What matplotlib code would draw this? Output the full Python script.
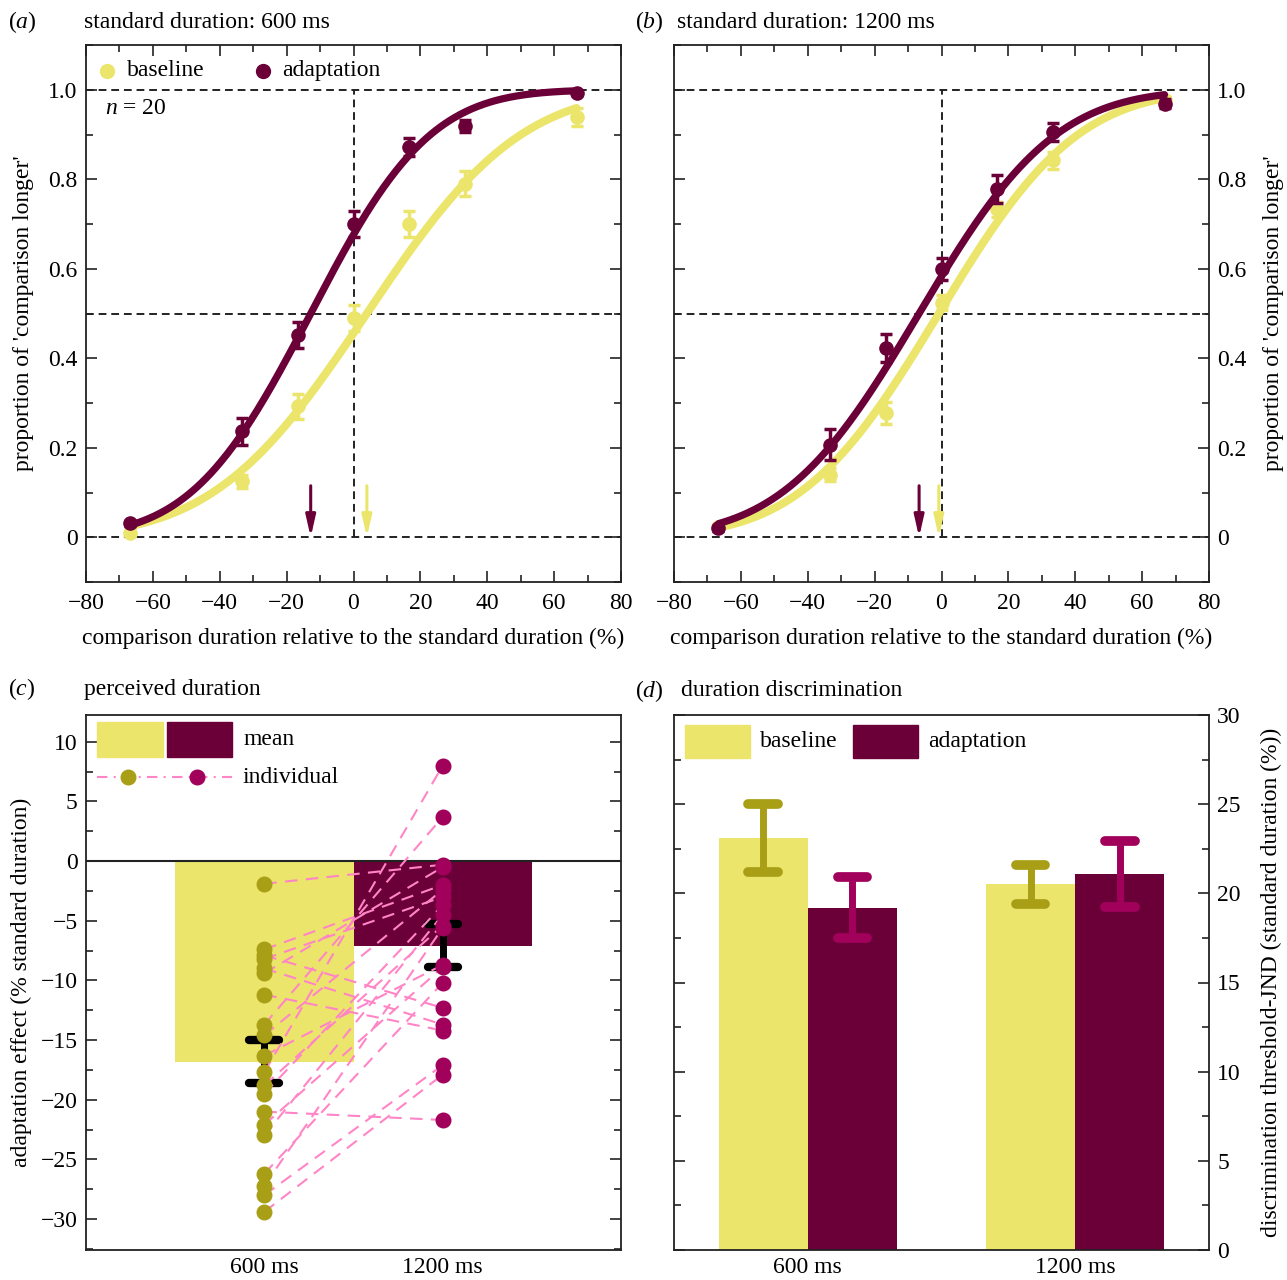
import math

import numpy as np
import matplotlib
matplotlib.use("Agg")
import matplotlib.pyplot as plt
from matplotlib.patches import Rectangle
from matplotlib.ticker import MultipleLocator

plt.rcParams["font.family"] = ["Liberation Serif", "DejaVu Serif"]
plt.rcParams["mathtext.fontset"] = "custom"
plt.rcParams["mathtext.rm"] = "Liberation Serif"
plt.rcParams["mathtext.it"] = "Liberation Serif:italic"
plt.rcParams["font.size"] = 17

YELLOW = "#ebe56c"
MAROON = "#6b0039"
OLIVE = "#a99f16"
MAGENTA = "#a1005b"
PINK = "#ff85c6"
SPINE = "#222222"

# ---- (a), (b): psychometric data ----
comparison = [-66.7, -33.3, -16.7, 0.0, 16.7, 33.3, 66.7]

base_600 = [0.01, 0.125, 0.293, 0.49, 0.70, 0.79, 0.94]
base_600_err = [0.005, 0.015, 0.028, 0.028, 0.028, 0.028, 0.02]
adapt_600 = [0.031, 0.237, 0.453, 0.70, 0.872, 0.919, 0.993]
adapt_600_err = [0.005, 0.03, 0.029, 0.029, 0.02, 0.014, 0.005]

base_1200 = [0.024, 0.14, 0.278, 0.524, 0.733, 0.842, 0.976]
base_1200_err = [0.005, 0.015, 0.024, 0.017, 0.017, 0.02, 0.008]
adapt_1200 = [0.02, 0.207, 0.423, 0.599, 0.778, 0.905, 0.969]
adapt_1200_err = [0.005, 0.034, 0.032, 0.024, 0.031, 0.02, 0.01]

# cumulative-Gaussian fit parameters (baseline, adaptation): PSE and sigma
pse_600 = [4.0, -12.8]
sigma_600 = [36.0, 28.0]
pse_1200 = [-0.8, -6.7]
sigma_1200 = [32.5, 32.0]

x_ticks_pct = [-80, -60, -40, -20, 0, 20, 40, 60, 80]
prop_ticks = [0, 0.2, 0.4, 0.6, 0.8, 1.0]
prop_labels = ["0", "0.2", "0.4", "0.6", "0.8", "1.0"]

# ---- (c): adaptation effect per participant, 600 ms vs 1200 ms ----
durations = ["600 ms", "1200 ms"]
effect_600 = [-1.9, -7.4, -7.9, -8.2, -9.0, -9.4, -11.2, -13.7, -14.6, -16.3,
              -17.7, -18.8, -19.5, -21.0, -22.1, -23.0, -26.2, -27.2, -28.0, -29.4]
effect_1200 = [-0.3, -2.0, -12.3, -3.0, -13.7, -0.5, -14.2, 3.7, -2.4, -8.7,
               8.0, -5.4, -3.7, -21.7, -8.9, -4.5, -10.2, -5.6, -17.1, -17.9]
effect_mean = [-16.8, -7.1]
effect_se = [1.8, 1.8]
effect_ticks = [10, 5, 0, -5, -10, -15, -20, -25, -30]

# ---- (d): JND ----
jnd_base = [23.1, 20.5]
jnd_base_err = [1.9, 1.1]
jnd_adapt = [19.2, 21.1]
jnd_adapt_err = [1.7, 1.85]


def cum_gauss(x, mu, sigma):
    return np.array([0.5 * (1 + math.erf((v - mu) / (sigma * math.sqrt(2)))) for v in x])


def style_box(ax):
    for s in ax.spines.values():
        s.set_linewidth(1.3)
        s.set_color(SPINE)
    ax.tick_params(which="both", direction="in", width=1.2, color=SPINE)
    ax.tick_params(which="major", length=8)
    ax.tick_params(which="minor", length=5)


def round_err(ax, x, y, e, color, lw, cap_w, cap_lw, z=4):
    ax.vlines(x, y - e, y + e, color=color, lw=lw, zorder=z)
    ax.hlines([y - e, y + e], x - cap_w / 2, x + cap_w / 2, color=color,
              lw=cap_lw, capstyle="round", zorder=z)


W, H = 1287, 1280
fig = plt.figure(figsize=(W / 100, H / 100), dpi=100)


def box(px_left, px_top, px_w=535, px_h=537):
    return [px_left / W, 1 - (px_top + px_h) / H, px_w / W, px_h / H]


ax_a = fig.add_axes(box(86, 45))
ax_b = fig.add_axes(box(674, 45))
ax_c = fig.add_axes(box(86, 715, px_h=535))
ax_d = fig.add_axes(box(674, 715, px_h=535))

xfine = np.linspace(comparison[0], comparison[-1], 300)
panels = [
    (ax_a, base_600, base_600_err, adapt_600, adapt_600_err, pse_600, sigma_600),
    (ax_b, base_1200, base_1200_err, adapt_1200, adapt_1200_err, pse_1200, sigma_1200),
]
dash = (0, (4, 2.5))
for ax, b, be, a, ae, pse, sig in panels:
    ax.axhline(0, color=SPINE, lw=1.4, ls=dash, zorder=1)
    ax.axhline(0.5, color=SPINE, lw=1.4, ls=dash, zorder=1)
    ax.axhline(1.0, color=SPINE, lw=1.4, ls=dash, zorder=1)
    ax.plot([0, 0], [0, 1], color=SPINE, lw=1.4, ls=dash, zorder=1)

    ax.plot(xfine, cum_gauss(xfine, pse[0], sig[0]), color=YELLOW, lw=5.8,
            solid_capstyle="round", zorder=2)
    ax.errorbar(comparison, b, yerr=be, fmt="o", color=YELLOW, ms=9.5,
                elinewidth=2.5, capsize=4.5, capthick=2.5, zorder=3)
    ax.plot(xfine, cum_gauss(xfine, pse[1], sig[1]), color=MAROON, lw=5.2,
            solid_capstyle="round", zorder=4)
    ax.errorbar(comparison, a, yerr=ae, fmt="o", color=MAROON, ms=9.5,
                elinewidth=2.5, capsize=4.5, capthick=2.5, zorder=5)

    for p, col in zip(pse, [YELLOW, MAROON]):
        ax.annotate("", xy=(p, 0.0), xytext=(p, 0.115),
                    arrowprops=dict(arrowstyle="-|>,head_length=0.75,head_width=0.17",
                                    color=col, lw=2.2, shrinkA=0, shrinkB=0),
                    zorder=6)

    ax.set_xlim(-80, 80)
    ax.set_ylim(-0.1, 1.1)
    ax.set_xticks(x_ticks_pct)
    ax.xaxis.set_minor_locator(MultipleLocator(10))
    ax.set_yticks(prop_ticks)
    ax.set_yticklabels(prop_labels)
    ax.yaxis.set_minor_locator(MultipleLocator(0.1))
    style_box(ax)
    ax.tick_params(which="both", top=True, right=True, bottom=True, left=True)
    ax.tick_params(axis="x", pad=8)
    ax.set_xlabel("comparison duration relative to the standard duration (%)",
                  labelpad=10)

ax_a.set_ylabel("proportion of 'comparison longer'", labelpad=10)
ax_a.tick_params(axis="y", pad=6)
ax_b.tick_params(axis="y", labelleft=False, labelright=True, pad=6)
ax_b.yaxis.set_label_position("right")
ax_b.set_ylabel("proportion of 'comparison longer'", labelpad=12)

# legend of (a)
ax_a.plot([0.039], [0.9516], "o", color=YELLOW, ms=10, transform=ax_a.transAxes, clip_on=False)
ax_a.text(0.076, 0.9516, "baseline", transform=ax_a.transAxes, va="center")
ax_a.plot([0.331], [0.9516], "o", color=MAROON, ms=10, transform=ax_a.transAxes, clip_on=False)
ax_a.text(0.366, 0.9516, "adaptation", transform=ax_a.transAxes, va="center")
ax_a.text(0.035, 0.881, "$n$ = 20", transform=ax_a.transAxes, va="center")

# ---- (c) ----
xc = [1, 2]
ax_c.bar(xc, [effect_mean[0], effect_mean[1]], width=1.0, color=[YELLOW, MAROON], zorder=1)
ax_c.axhline(0, color=SPINE, lw=1.5, zorder=2)
for x, m, s in zip(xc, effect_mean, effect_se):
    round_err(ax_c, x, m, s, "black", lw=5, cap_w=0.17, cap_lw=6, z=3)
for y0, y1 in zip(effect_600, effect_1200):
    ax_c.plot(xc, [y0, y1], color=PINK, lw=1.5, ls=(0, (6, 4)), zorder=4)
ax_c.plot([1] * len(effect_600), effect_600, "o", color=OLIVE, ms=10.5, zorder=5)
ax_c.plot([2] * len(effect_1200), effect_1200, "o", color=MAGENTA, ms=10.5, zorder=5)

ax_c.set_xlim(0, 3)
ax_c.set_ylim(-32.6, 12.25)
ax_c.set_xticks(xc)
ax_c.set_xticklabels(durations)
ax_c.set_yticks(effect_ticks)
ax_c.yaxis.set_minor_locator(MultipleLocator(2.5))
style_box(ax_c)
ax_c.tick_params(which="both", left=True, right=True, top=False)
ax_c.tick_params(axis="x", which="both", length=0, pad=5)
ax_c.tick_params(axis="y", pad=6)
ax_c.set_ylabel("adaptation effect (% standard duration)", labelpad=6)

# legend of (c)
tc = ax_c.transAxes
ax_c.add_patch(Rectangle((0.0206, 0.9215), 0.1233, 0.0654, color=YELLOW, transform=tc, zorder=6))
ax_c.add_patch(Rectangle((0.1514, 0.9215), 0.1215, 0.0654, color=MAROON, transform=tc, zorder=6))
ax_c.text(0.2953, 0.955, "mean", transform=tc, va="center")
ax_c.plot([0.0206, 0.2729], [0.884, 0.884], color=PINK, lw=1.5, ls=(0, (5, 3, 1, 3)),
          transform=tc, zorder=6)
ax_c.plot([0.0785], [0.884], "o", color=OLIVE, ms=10.5, transform=tc, zorder=7)
ax_c.plot([0.2075], [0.884], "o", color=MAGENTA, ms=10.5, transform=tc, zorder=7)
ax_c.text(0.2916, 0.884, "individual", transform=tc, va="center")

# ---- (d) ----
xd = np.array([0.5, 1.5])
bw = 1 / 3
ax_d.bar(xd - bw / 2, jnd_base, width=bw, color=YELLOW, zorder=1)
ax_d.bar(xd + bw / 2, jnd_adapt, width=bw, color=MAROON, zorder=1)
for x, m, s in zip(xd - bw / 2, jnd_base, jnd_base_err):
    round_err(ax_d, x, m, s, OLIVE, lw=5, cap_w=0.11, cap_lw=7, z=3)
for x, m, s in zip(xd + bw / 2, jnd_adapt, jnd_adapt_err):
    round_err(ax_d, x, m, s, MAGENTA, lw=5, cap_w=0.11, cap_lw=7, z=3)

ax_d.set_xlim(0, 2)
ax_d.set_ylim(0, 30)
ax_d.set_xticks(xd)
ax_d.set_xticklabels(durations)
ax_d.yaxis.set_major_locator(MultipleLocator(5))
ax_d.yaxis.set_minor_locator(MultipleLocator(2.5))
style_box(ax_d)
ax_d.tick_params(which="both", left=True, right=True, top=False)
ax_d.tick_params(axis="y", labelleft=False, labelright=True, pad=6)
ax_d.tick_params(axis="x", which="both", length=0, pad=5)
ax_d.yaxis.set_label_position("right")
ax_d.set_ylabel("discrimination threshold-JND (standard duration (%))", labelpad=14)

td = ax_d.transAxes
ax_d.add_patch(Rectangle((0.0206, 0.9196), 0.1215, 0.0617, color=YELLOW, transform=td, zorder=6))
ax_d.text(0.1607, 0.95, "baseline", transform=td, va="center")
ax_d.add_patch(Rectangle((0.3346, 0.9196), 0.1215, 0.0617, color=MAROON, transform=td, zorder=6))
ax_d.text(0.4748, 0.95, "adaptation", transform=td, va="center")

# panel letters and titles
def ftxt(px, py, s):
    fig.text(px / W, 1 - py / H, s, va="center", ha="left")

ftxt(8, 22, "($a$)")
ftxt(84, 22, "standard duration: 600 ms")
ftxt(635, 22, "($b$)")
ftxt(677, 22, "standard duration: 1200 ms")
ftxt(8, 689, "($c$)")
ftxt(84, 689, "perceived duration")
ftxt(635, 691, "($d$)")
ftxt(681, 691, "duration discrimination")

fig.savefig("out.png", dpi=100)
